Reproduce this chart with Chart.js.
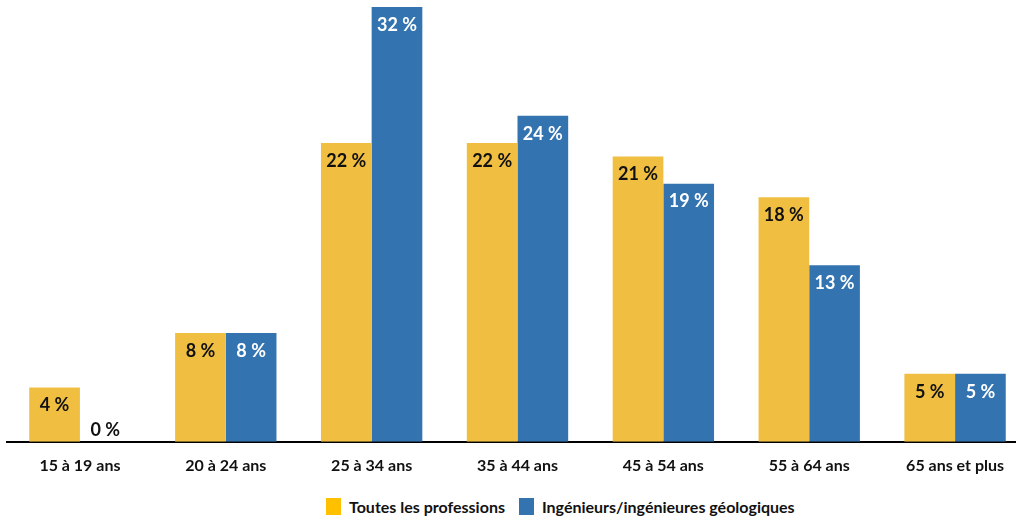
<!DOCTYPE html>
<html lang="fr">
<head>
<meta charset="utf-8">
<script src="https://cdn.jsdelivr.net/npm/chart.js@4/dist/chart.umd.min.js"></script>
<style>
  html, body { margin: 0; padding: 0; background: #fff; overflow: hidden; }
  #wrap { position: relative; width: 1028px; height: 481px; }
  #legend {
    position: absolute; top: 497px; left: 326px;
    display: flex; align-items: center;
    font: bold 16px Lato, "Open Sans", sans-serif; color: #111;
  }
  #legend .item { display: flex; align-items: center; margin-right: 14px; }
  #legend .box { width: 15px; height: 17px; margin-right: 8px; }
</style>
</head>
<body>
<div id="wrap"><canvas id="ages"></canvas></div>
<div id="legend"></div>
<script>
// Répartition par groupe d'âge (%)
const groupesAge = ['15 à 19 ans', '20 à 24 ans', '25 à 34 ans', '35 à 44 ans', '45 à 54 ans', '55 à 64 ans', '65 ans et plus'];
const toutesProfessions = [4, 8, 22, 22, 21, 18, 5];
const ingenieursGeo = [0, 8, 32, 24, 19, 13, 5];

const JAUNE = '#f0bf41';
const BLEU = '#3373af';

// Étiquettes de valeur dans le haut des barres
const valeursPlugin = {
    id: 'valeurs',
    afterDatasetsDraw(chart) {
        const ctx = chart.ctx;
        ctx.save();
        ctx.font = 'bold 18px Lato, "Open Sans", sans-serif';
        ctx.textAlign = 'center';
        ctx.textBaseline = 'middle';
        chart.data.datasets.forEach((ds, i) => {
            const meta = chart.getDatasetMeta(i);
            meta.data.forEach((bar, j) => {
                const v = ds.data[j];
                const h = bar.base - bar.y;
                let y = bar.y + 18;
                let couleur = ds.labelColor;
                if (h < 30) {
                    y = bar.y - 12;
                    couleur = '#111';
                }
                ctx.fillStyle = couleur;
                ctx.fillText(v + ' %', bar.x, y);
            });
        });
        ctx.restore();
    }
};

const chart = new Chart(document.getElementById('ages'), {
    type: 'bar',
    data: {
        labels: groupesAge,
        datasets: [
            {
                label: 'Toutes les professions',
                data: toutesProfessions,
                backgroundColor: JAUNE,
                legendColor: '#ffc000',
                labelColor: '#111'
            },
            {
                label: 'Ingénieurs/ingénieures géologiques',
                data: ingenieursGeo,
                backgroundColor: BLEU,
                legendColor: BLEU,
                labelColor: '#fff'
            }
        ]
    },
    options: {
        responsive: true,
        maintainAspectRatio: false,
        animation: false,
        layout: { padding: { left: 7, top: 7, right: 0, bottom: 0 } },
        datasets: {
            bar: { categoryPercentage: 0.695, barPercentage: 1.0 }
        },
        plugins: {
            legend: { display: false },
            tooltip: { enabled: false }
        },
        scales: {
            x: {
                grid: { display: false },
                border: { color: '#000', width: 2 },
                ticks: {
                    color: '#111',
                    padding: 6,
                    font: { family: 'Lato, "Open Sans", sans-serif', size: 16, weight: 'bold' }
                }
            },
            y: {
                display: false,
                min: 0,
                max: 32
            }
        }
    },
    plugins: [valeursPlugin]
});

// Légende en HTML, construite à partir des séries
const legende = document.getElementById('legend');
chart.data.datasets.forEach(ds => {
    const item = document.createElement('div');
    item.className = 'item';
    const box = document.createElement('span');
    box.className = 'box';
    box.style.background = ds.legendColor;
    const txt = document.createElement('span');
    txt.textContent = ds.label;
    item.appendChild(box);
    item.appendChild(txt);
    legende.appendChild(item);
});
</script>
</body>
</html>
